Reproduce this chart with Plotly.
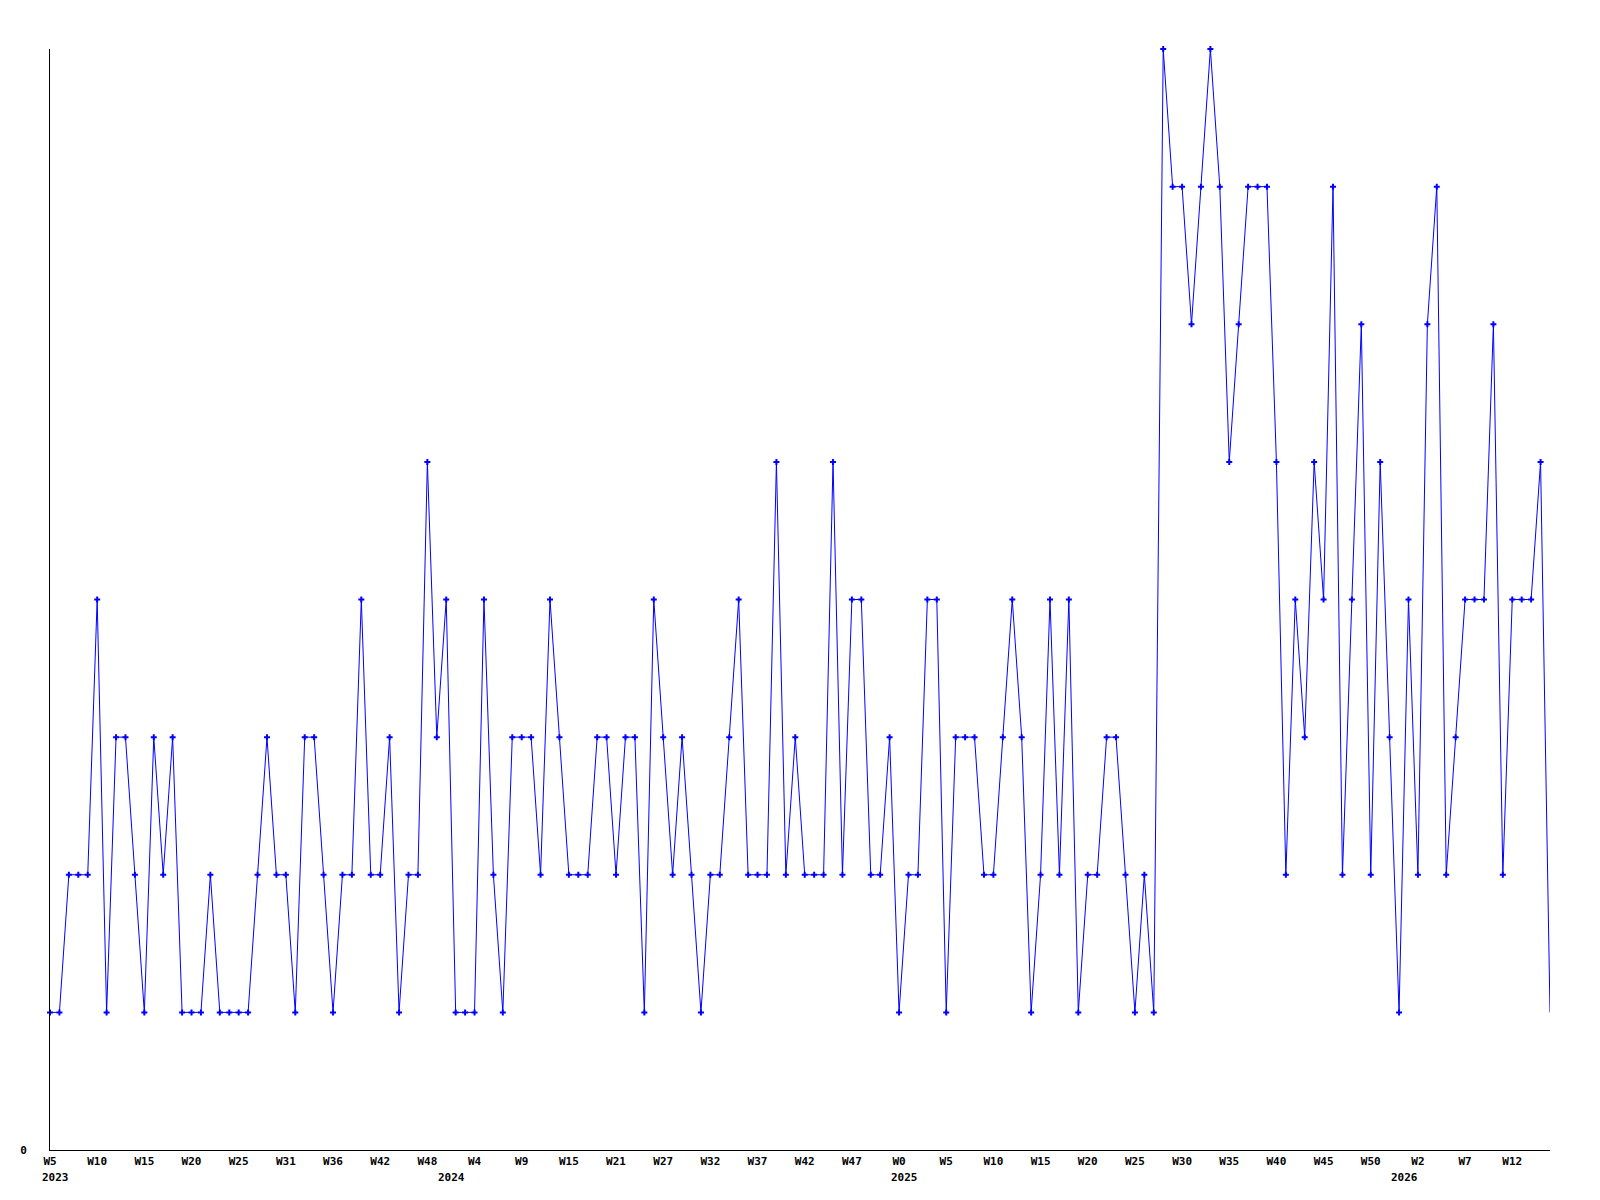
import plotly.graph_objects as go

values = [1,1,2,2,2,4,1,3,3,2,
          1,3,2,3,1,1,1,2,1,1,
          1,1,2,3,2,2,1,3,3,2,
          1,2,2,4,2,2,3,1,2,2,
          5,3,4,1,1,1,4,2,1,3,
          3,3,2,4,3,2,2,2,3,3,
          2,3,3,1,4,3,2,3,2,1,
          2,2,3,4,2,2,2,5,2,3,
          2,2,2,5,2,4,4,2,2,3,
          1,2,2,4,4,1,3,3,3,2,
          2,3,4,3,1,2,4,2,4,1,
          2,2,3,3,2,1,2,1,8,7,
          7,6,7,8,7,5,6,7,7,7,
          5,2,4,3,5,4,7,2,4,6,
          2,5,3,1,4,2,6,7,2,3,
          4,4,4,6,2,4,4,4,5,1]
x_idx = list(range(len(values)))

tick_labels = ["W5","W10","W15","W20","W25","W31","W36","W42","W48","W4","W9",
               "W15","W21","W27","W32","W37","W42","W47","W0","W5","W10","W15",
               "W20","W25","W30","W35","W40","W45","W50","W2","W7","W12"]
tick_idx = list(range(0, 5 * len(tick_labels), 5))

year_labels = ["2023", "2024", "2025", "2026"]
year_idx = [0, 42, 90, 143]

FONT = "DejaVu Sans Mono"

fig = go.Figure()
# line through every point
fig.add_trace(go.Scatter(
    x=x_idx, y=values, mode="lines",
    line=dict(color="#0000FF", width=1),
    cliponaxis=False, showlegend=False))
# markers on every point except the final (partial) one, as in the original
fig.add_trace(go.Scatter(
    x=x_idx[:-1], y=values[:-1], mode="markers",
    marker=dict(symbol="cross", size=5, color="#0000FF"),
    cliponaxis=False, showlegend=False))

for lab, xi in zip(year_labels, year_idx):
    fig.add_annotation(x=xi, y=0, xref="x", yref="y", text=lab, showarrow=False,
                       xanchor="left", yanchor="top", xshift=-10, yshift=-19,
                       font=dict(family=FONT, size=11, color="black", weight="bold"))

fig.update_layout(
    width=1592, height=1192,
    margin=dict(l=42, r=50, t=41, b=50, autoexpand=False),
    paper_bgcolor="white", plot_bgcolor="white",
    font=dict(family=FONT, size=11, color="black", weight="bold"),
    xaxis=dict(range=[0, len(values) - 1], tickvals=tick_idx, ticktext=tick_labels,
               showgrid=False, zeroline=False, showline=True, linecolor="black",
               linewidth=1, ticks="outside", ticklen=1, tickcolor="rgba(0,0,0,0)",
               tickangle=0, automargin=False),
    yaxis=dict(range=[0, 8], tickvals=[0], ticktext=["0"], showgrid=False,
               zeroline=False, showline=True, linecolor="black", linewidth=1,
               ticks="outside", ticklen=20, tickcolor="rgba(0,0,0,0)",
               automargin=False),
)

fig.write_html("out.html")
